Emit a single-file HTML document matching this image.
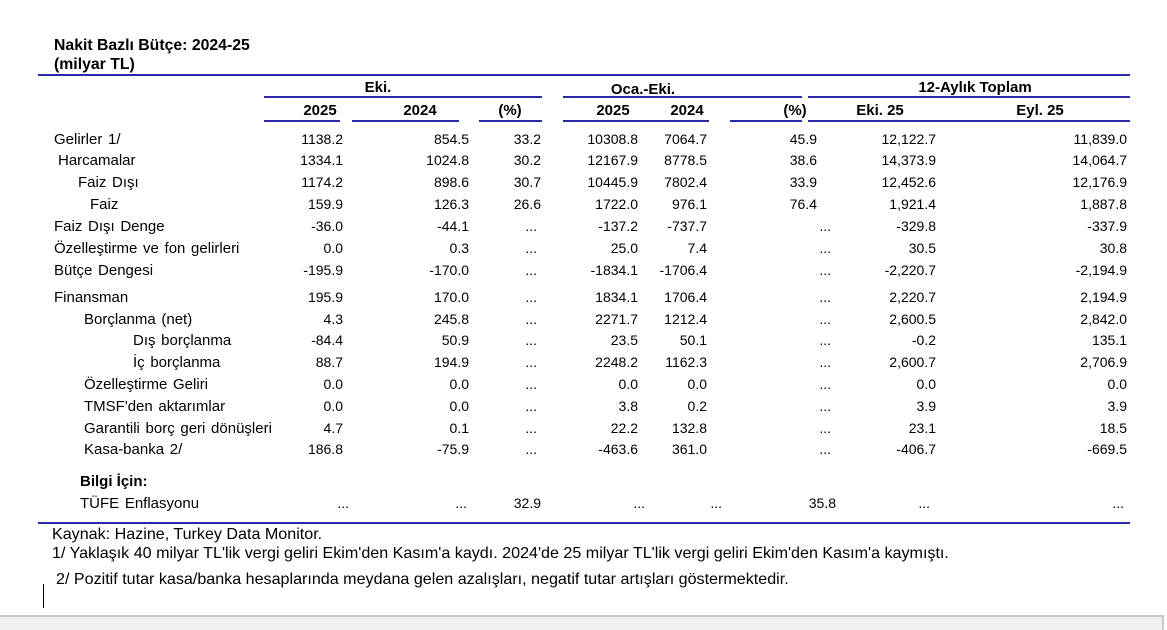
<!DOCTYPE html>
<html><head><meta charset="utf-8"><style>
body{margin:0;width:1167px;height:628px;background:#fff;position:relative;overflow:hidden;font-family:"Liberation Sans",Arial,sans-serif;font-size:14px;color:#000}
.t{position:absolute;white-space:nowrap;line-height:16px}
.lab{font-size:15px;word-spacing:1.5px}
.fn{font-size:16.1px}
.r{position:absolute;width:120px;text-align:right;white-space:nowrap;line-height:16px}
.c{position:absolute;width:120px;text-align:center;white-space:nowrap;line-height:16px}
.b{font-weight:bold}
.l{position:absolute;height:2px;background:#2a2aa8}
</style></head><body>
<div class="t b" style="left:54px;top:38px;font-size:15.8px">Nakit Bazlı Bütçe: 2024-25</div>
<div class="t b" style="left:54px;top:57px;font-size:15.8px">(milyar TL)</div>
<div class="l" style="left:38px;top:74px;width:1092px"></div>
<div class="c b" style="left:318px;top:80px;font-size:15px">Eki.</div>
<div class="c b" style="left:583px;top:82px;font-size:15px">Oca.-Eki.</div>
<div class="c b" style="left:915px;top:80px;font-size:15px">12-Aylık Toplam</div>
<div class="l" style="left:264px;top:96px;width:278px"></div>
<div class="l" style="left:563px;top:96px;width:239px"></div>
<div class="l" style="left:808px;top:96px;width:322px"></div>
<div class="c b" style="left:260px;top:103px;font-size:15px">2025</div>
<div class="c b" style="left:360px;top:103px;font-size:15px">2024</div>
<div class="c b" style="left:450px;top:103px;font-size:15px">(%)</div>
<div class="c b" style="left:553px;top:103px;font-size:15px">2025</div>
<div class="c b" style="left:627px;top:103px;font-size:15px">2024</div>
<div class="c b" style="left:735px;top:103px;font-size:15px">(%)</div>
<div class="c b" style="left:820px;top:103px;font-size:15px">Eki. 25</div>
<div class="c b" style="left:980px;top:103px;font-size:15px">Eyl. 25</div>
<div class="l" style="left:264px;top:120px;width:76px"></div>
<div class="l" style="left:352px;top:120px;width:107px"></div>
<div class="l" style="left:479px;top:120px;width:63px"></div>
<div class="l" style="left:563px;top:120px;width:146px"></div>
<div class="l" style="left:730px;top:120px;width:72px"></div>
<div class="l" style="left:808px;top:120px;width:322px"></div>

<div id="rows"></div>
<script>
var R=[
[139,54,"Gelirler 1/",["1138.2","854.5","33.2","10308.8","7064.7","45.9","12,122.7","11,839.0"]],
[160,58,"Harcamalar",["1334.1","1024.8","30.2","12167.9","8778.5","38.6","14,373.9","14,064.7"]],
[182,78,"Faiz Dışı",["1174.2","898.6","30.7","10445.9","7802.4","33.9","12,452.6","12,176.9"]],
[204,90,"Faiz",["159.9","126.3","26.6","1722.0","976.1","76.4","1,921.4","1,887.8"]],
[226,54,"Faiz Dışı Denge",["-36.0","-44.1","...","-137.2","-737.7","...","-329.8","-337.9"]],
[248,54,"Özelleştirme ve fon gelirleri",["0.0","0.3","...","25.0","7.4","...","30.5","30.8"]],
[270,54,"Bütçe Dengesi",["-195.9","-170.0","...","-1834.1","-1706.4","...","-2,220.7","-2,194.9"]],
[297,54,"Finansman",["195.9","170.0","...","1834.1","1706.4","...","2,220.7","2,194.9"]],
[319,84,"Borçlanma (net)",["4.3","245.8","...","2271.7","1212.4","...","2,600.5","2,842.0"]],
[340,133,"Dış borçlanma",["-84.4","50.9","...","23.5","50.1","...","-0.2","135.1"]],
[362,133,"İç borçlanma",["88.7","194.9","...","2248.2","1162.3","...","2,600.7","2,706.9"]],
[384,84,"Özelleştirme Geliri",["0.0","0.0","...","0.0","0.0","...","0.0","0.0"]],
[406,84,"TMSF'den aktarımlar",["0.0","0.0","...","3.8","0.2","...","3.9","3.9"]],
[428,84,"Garantili borç geri dönüşleri",["4.7","0.1","...","22.2","132.8","...","23.1","18.5"]],
[449,84,"Kasa-banka 2/",["186.8","-75.9","...","-463.6","361.0","...","-406.7","-669.5"]],
[503,80,"TÜFE Enflasyonu",["...","...","32.9","...","...","35.8","...","..."]]
];
var X=[343,469,541,638,707,817,936,1127];
var DX=[343,469,537,638,707,831,932,1127];
var tf=[349,467,541,645,722,836,930,1124];
var h="";
R.forEach(function(r,i){
 var top=r[0]-8;
 h+='<div class="t lab" style="left:'+r[1]+'px;top:'+(top+1)+'px">'+r[2]+'</div>';
 r[3].forEach(function(v,j){
  var x=(r[2]=="TÜFE Enflasyonu")?tf[j]:(v=="..."?DX[j]:X[j]);
  h+='<div class="r" style="left:'+(x-120)+'px;top:'+top+'px">'+v+'</div>';
 });
});
document.getElementById("rows").innerHTML=h;
</script>
<div class="t b" style="left:80px;top:474px;font-size:15px">Bilgi İçin:</div>
<div class="l" style="left:38px;top:522px;width:1092px"></div>
<div class="t fn" style="left:52px;top:526px">Kaynak: Hazine, Turkey Data Monitor.</div>
<div class="t fn" style="left:52px;top:545px">1/ Yaklaşık 40 milyar TL'lik vergi geliri Ekim'den Kasım'a kaydı. 2024'de 25 milyar TL'lik vergi geliri Ekim'den Kasım'a kaymıştı.</div>
<div class="t fn" style="left:56px;top:571px">2/ Pozitif tutar kasa/banka hesaplarında meydana gelen azalışları, negatif tutar artışları göstermektedir.</div>
<div style="position:absolute;left:43px;top:584px;width:1px;height:24px;background:#000"></div>
<div style="position:absolute;left:0;top:615px;width:1162px;height:13px;background:#f0f0f0;border-top:2px solid #c8c8c8;border-right:2px solid #c8c8c8"></div>
</body></html>
